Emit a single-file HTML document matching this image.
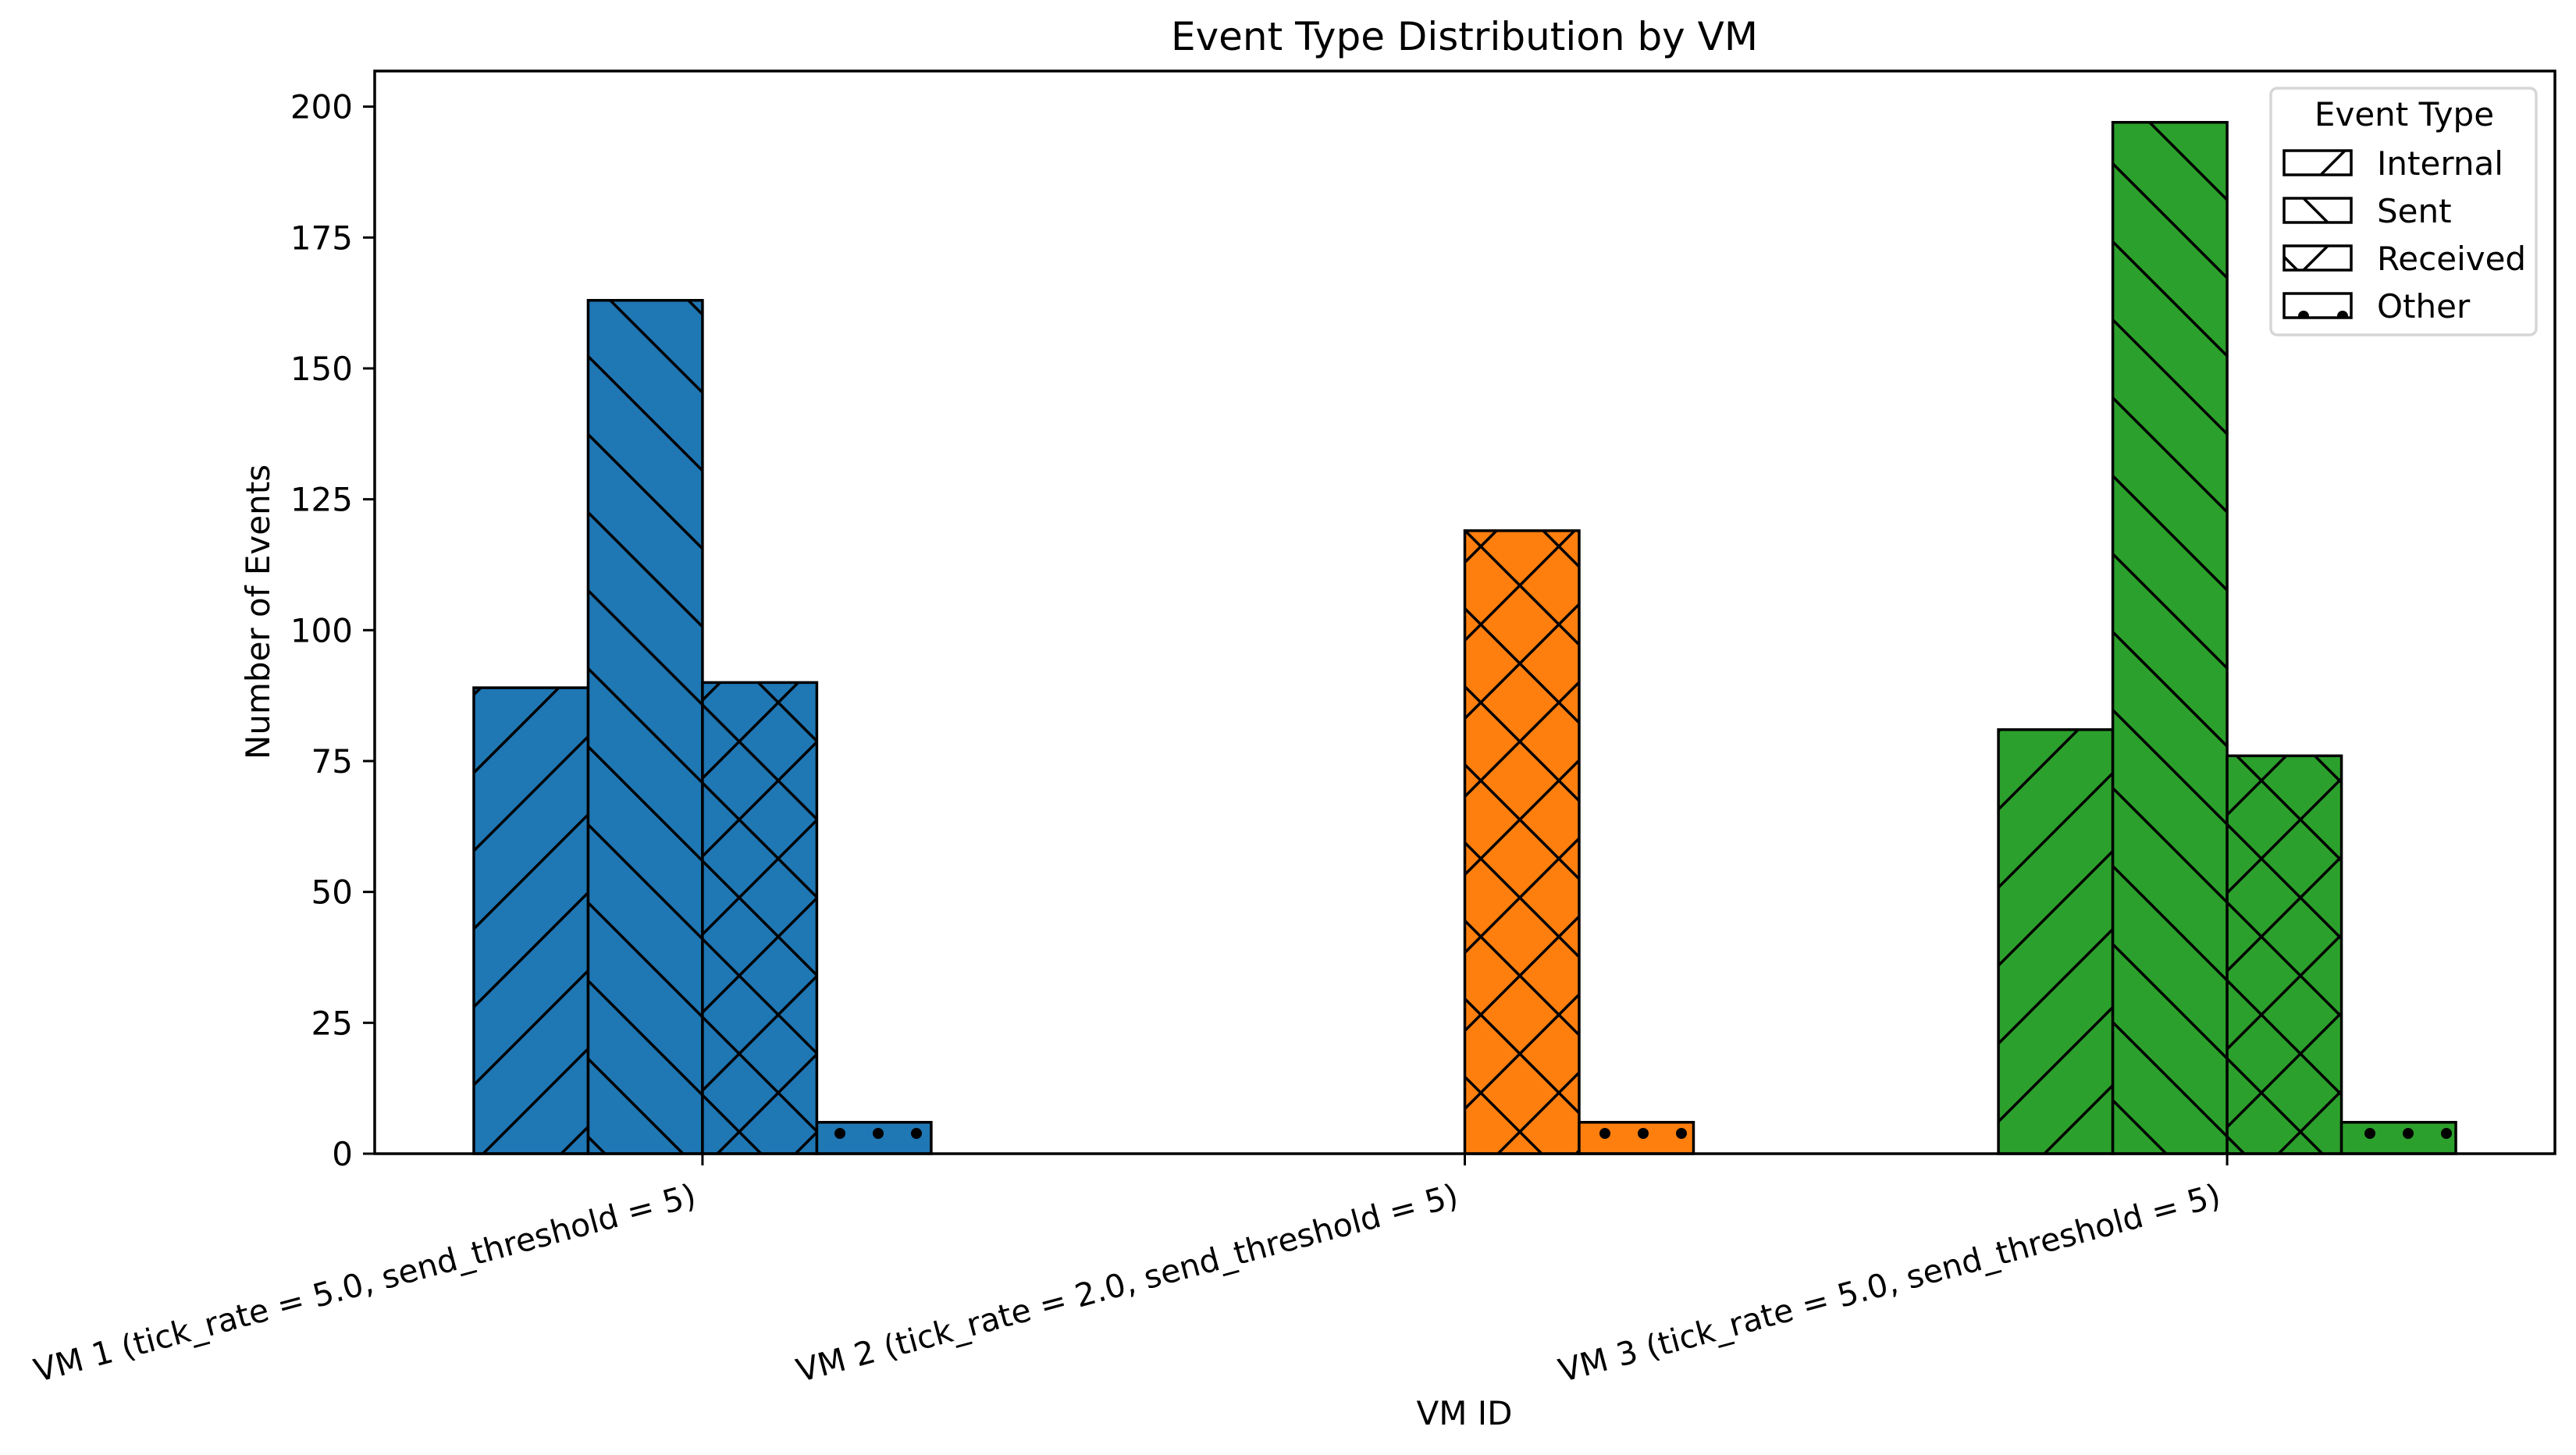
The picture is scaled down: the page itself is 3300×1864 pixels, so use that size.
<!DOCTYPE html>
<html><head><meta charset="utf-8"><style>
html,body{margin:0;padding:0;background:#fff}
svg{display:block;font-family:"DejaVu Sans","Liberation Sans",sans-serif}
</style></head><body>
<svg id="chart" width="3300" height="1864" viewBox="0 0 3300 1864">
<defs>
<pattern id="h-int" patternUnits="userSpaceOnUse" width="100" height="100" patternTransform="translate(-3,0)">
<line x1="-10" y1="110" x2="110" y2="-10" stroke="#000" stroke-width="3.5"/>
<line x1="-60" y1="60" x2="60" y2="-60" stroke="#000" stroke-width="3.5"/>
<line x1="40" y1="160" x2="160" y2="40" stroke="#000" stroke-width="3.5"/>
</pattern>
<pattern id="h-sent" patternUnits="userSpaceOnUse" width="100" height="100" patternTransform="translate(-3,0)">
<line x1="-10" y1="-10" x2="110" y2="110" stroke="#000" stroke-width="3.5"/>
<line x1="-60" y1="40" x2="60" y2="160" stroke="#000" stroke-width="3.5"/>
<line x1="40" y1="-60" x2="160" y2="60" stroke="#000" stroke-width="3.5"/>
</pattern>
<pattern id="h-recv" patternUnits="userSpaceOnUse" width="100" height="100" patternTransform="translate(-3,0)">
<line x1="-10" y1="110" x2="110" y2="-10" stroke="#000" stroke-width="3.5"/>
<line x1="-60" y1="60" x2="60" y2="-60" stroke="#000" stroke-width="3.5"/>
<line x1="40" y1="160" x2="160" y2="40" stroke="#000" stroke-width="3.5"/>
<line x1="-10" y1="-10" x2="110" y2="110" stroke="#000" stroke-width="3.5"/>
<line x1="-60" y1="40" x2="60" y2="160" stroke="#000" stroke-width="3.5"/>
<line x1="40" y1="-60" x2="160" y2="60" stroke="#000" stroke-width="3.5"/>
</pattern>
<pattern id="h-other" patternUnits="userSpaceOnUse" width="49" height="50" patternTransform="translate(22,2)">
<circle cx="25" cy="0" r="7" fill="#000"/><circle cx="25" cy="50" r="7" fill="#000"/>
</pattern>
<pattern id="h-other-leg" patternUnits="userSpaceOnUse" width="50" height="50" patternTransform="translate(2926,5)">
<circle cx="25" cy="0" r="7" fill="#000"/><circle cx="25" cy="50" r="7" fill="#000"/>
</pattern>
</defs>
<text x="1876" y="64" font-size="50" text-anchor="middle">Event Type Distribution by VM</text>
<g id="plot"></g>
<rect x="480" y="91" width="2793" height="1387" fill="none" stroke="#000" stroke-width="3.5"/>
<text x="0" y="0" font-size="42" text-anchor="middle" transform="translate(345,784) rotate(-90)">Number of Events</text>
<text x="1876" y="1825" font-size="42" text-anchor="middle">VM ID</text>
<g>
<rect x="2909" y="113" width="340" height="316" rx="8" fill="#fff" fill-opacity="0.8" stroke="#d6d6d6" stroke-width="3.5"/>
<text x="3080" y="161" font-size="42" text-anchor="middle">Event Type</text>
<g id="legend-entries"></g>
</g>
</svg>
<script>
const categories = ["VM 1 (tick_rate = 5.0, send_threshold = 5)", "VM 2 (tick_rate = 2.0, send_threshold = 5)", "VM 3 (tick_rate = 5.0, send_threshold = 5)"];
const eventTypes = ["Internal", "Sent", "Received", "Other"];
const internalValues = [89, 0, 81];
const sentValues = [163, 0, 197];
const receivedValues = [90, 119, 76];
const otherValues = [6, 6, 6];
const yTicks = [0, 25, 50, 75, 100, 125, 150, 175, 200];
const vmColors = ["#1f77b4", "#ff7f0e", "#2ca02c"];
const hatchIds = ["h-int", "h-sent", "h-recv", "h-other"];

const NS = "http://www.w3.org/2000/svg";
const L = 480, R = 3273, T = 91, B = 1478;
const xMin = -0.43, xMax = 2.43, yMin = 0, yMax = 206.8;
function xs(v){ return L + (v - xMin) / (xMax - xMin) * (R - L); }
function ys(v){ return B - (v - yMin) / (yMax - yMin) * (B - T); }
function mk(tag, attrs, parent){ const e = document.createElementNS(NS, tag); for (const k in attrs) e.setAttribute(k, attrs[k]); parent.appendChild(e); return e; }

const plot = document.getElementById("plot");
const series = [internalValues, sentValues, receivedValues, otherValues];
const bw = 0.15;
series.forEach((vals, s) => {
  vals.forEach((v, c) => {
    const x0 = xs(c + (s - 2) * bw), x1 = xs(c + (s - 1) * bw);
    const y0 = ys(v);
    const g = mk("g", {}, plot);
    
    
    mk("rect", {x: x0, y: y0, width: x1 - x0, height: B - y0, fill: vmColors[c]}, g);
    mk("rect", {x: x0, y: y0, width: x1 - x0, height: B - y0, fill: "url(#" + hatchIds[s] + ")"}, g);
    mk("rect", {x: x0, y: y0, width: x1 - x0, height: B - y0, fill: "none", stroke: "#000", "stroke-width": 3.5}, g);
  });
});

yTicks.forEach(t => {
  const y = ys(t);
  const ln = mk("line", {x1: L - 15, x2: L, y1: y, y2: y, stroke: "#000", "stroke-width": 3}, plot);
  
  
  const tx = mk("text", {x: L - 28, y: y + 15, "font-size": 42, "text-anchor": "end"}, plot);
  
  
  tx.textContent = t;
});

categories.forEach((c, i) => {
  const x = xs(i);
  const ln = mk("line", {x1: x, x2: x, y1: B, y2: B + 15, stroke: "#000", "stroke-width": 3}, plot);
  
  
  const tx = mk("text", {x: 0, y: 0, "font-size": 41, "text-anchor": "end", transform: "translate(" + (x - 6) + "," + (B + 66) + ") rotate(-15)"}, plot);
  
  
  tx.textContent = c;
});

const legHatch = ["h-int", "h-sent", "h-recv", "h-other-leg"];
const leg = document.getElementById("legend-entries");
eventTypes.forEach((n, i) => {
  const y = 193 + i * 61;
  const g = mk("g", {}, leg);
  
  
  mk("rect", {x: 2926, y: y, width: 86, height: 31, fill: "#fff"}, g);
  mk("rect", {x: 2926, y: y, width: 86, height: 31, fill: "url(#" + legHatch[i] + ")"}, g);
  mk("rect", {x: 2926, y: y, width: 86, height: 31, fill: "none", stroke: "#000", "stroke-width": 3.5}, g);
  const tx = mk("text", {x: 3045, y: y + 31, "font-size": 42}, g);
  tx.textContent = n;
});
</script>
</body></html>
